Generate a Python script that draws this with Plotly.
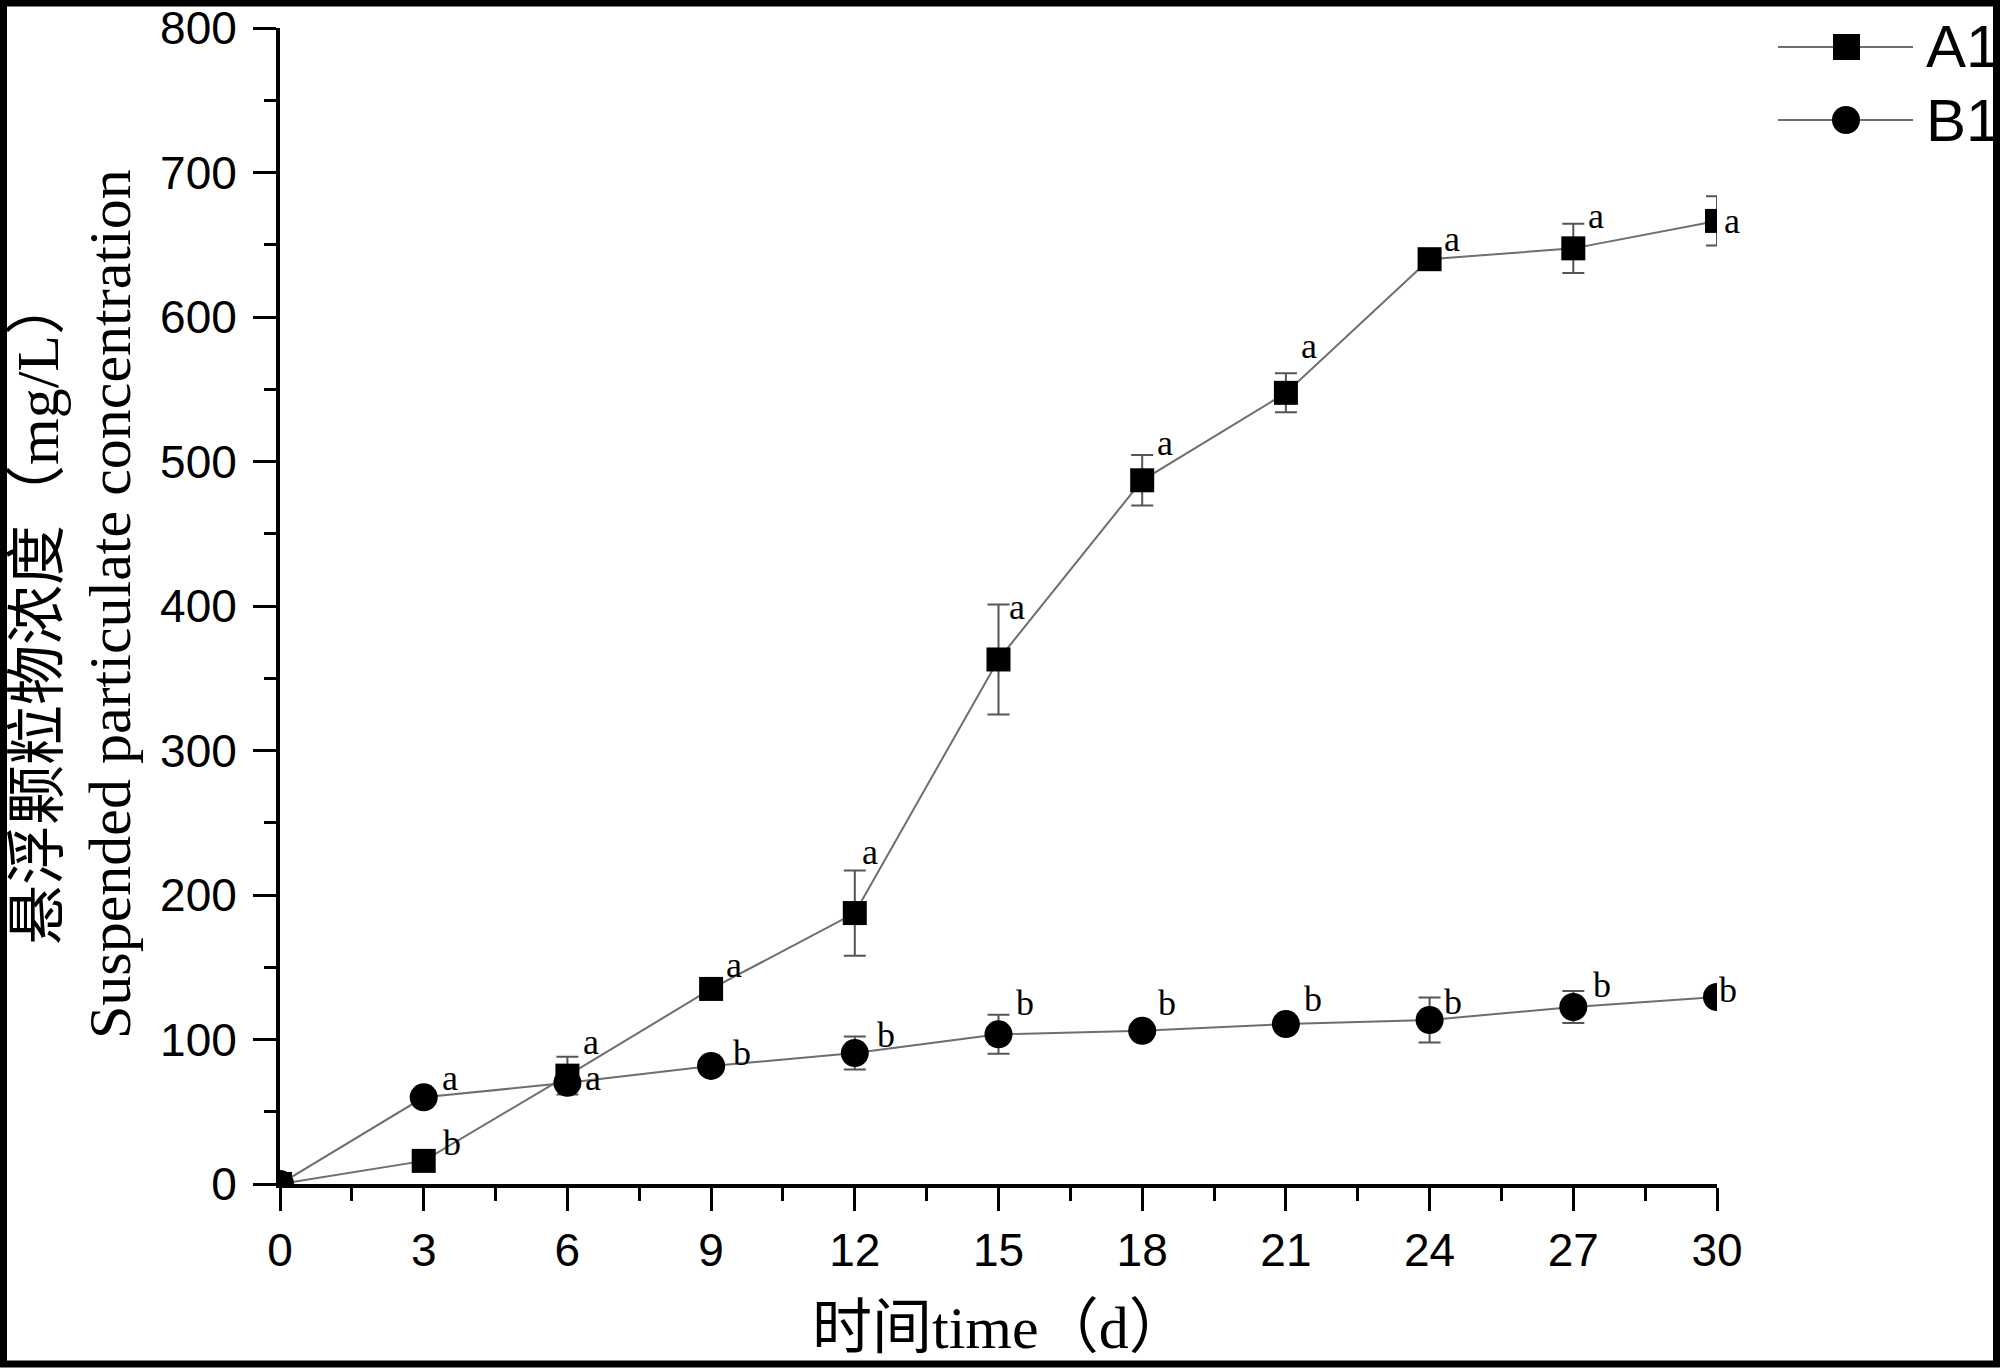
import plotly.graph_objects as go

# ---------------- data ----------------
days = [0, 3, 6, 9, 12, 15, 18, 21, 24, 27, 30]
a1_values = [0, 16, 75, 135, 187.5, 363, 487, 547.5, 640, 647.5, 666.5]
a1_errors = [0, 3, 13, 4, 29.5, 38, 17.5, 13.5, 4, 17, 17]
b1_values = [0, 60, 70, 81.7, 90.6, 103.6, 106, 110.7, 113.5, 122.5, 129.4]
b1_errors = [0, 3, 4, 4, 11.4, 13.5, 4, 4, 15.6, 11, 4]
a1_letters = ["", "b", "a", "a", "a", "a", "a", "a", "a", "a", "a"]
b1_letters = ["", "a", "a", "b", "b", "b", "b", "b", "b", "b", "b"]
series_names = ["A1", "B1"]
x_tick_values = [0, 3, 6, 9, 12, 15, 18, 21, 24, 27, 30]
y_tick_values = [0, 100, 200, 300, 400, 500, 600, 700, 800]

# ---------------- styles / layout geometry ----------------
W, H = 2000, 1368
ML, MR, MT, MB = 280, 283, 28, 184
PW, PH = W - ML - MR, H - MT - MB

# pixel offsets of significance letters relative to their points
a1_dx = [0, 28, 24, 23, 15, 18, 23, 23, 22, 23, 15]
a1_dy = [0, 18, 34, 24, 61, 52, 37, 47, 20, 32, 0]
b1_dx = [0, 26, 26, 31, 31, 26, 25, 27, 23, 29, 11]
b1_dy = [0, 19, 5, 13, 18, 31, 28, 25, 18, 22, 7]


def px_x(px):
    return (px - ML) / PW


def px_y(py):
    return (MT + PH - py) / PH


LINE_GRAY = "#6e6e6e"
ERR_GRAY = "#555555"
SERIF = "Liberation Serif, Times New Roman, serif"
SERIF_CJK = "Liberation Serif, Noto Sans CJK SC, serif"
SANS = "Liberation Sans, Arial, sans-serif"

fig = go.Figure()

fig.add_trace(go.Scatter(
    x=days, y=a1_values, name=series_names[0], mode="lines+markers",
    line=dict(color=LINE_GRAY, width=2),
    marker=dict(symbol="square", size=24, color="black"),
    error_y=dict(type="data", array=a1_errors, visible=True,
                 color=ERR_GRAY, thickness=2, width=11),
    showlegend=False,
))
fig.add_trace(go.Scatter(
    x=days, y=b1_values, name=series_names[1], mode="lines+markers",
    line=dict(color=LINE_GRAY, width=2),
    marker=dict(symbol="circle", size=28, color="black"),
    error_y=dict(type="data", array=b1_errors, visible=True,
                 color=ERR_GRAY, thickness=2, width=11),
    showlegend=False,
))

annotations = []
for t, v, lab, dx, dy in zip(days, a1_values, a1_letters, a1_dx, a1_dy):
    if lab:
        annotations.append(dict(x=t, y=v, xref="x", yref="y", text=lab,
                                showarrow=False, xshift=dx, yshift=dy,
                                xanchor="center", yanchor="middle",
                                font=dict(family=SERIF, size=36, color="black")))
for t, v, lab, dx, dy in zip(days, b1_values, b1_letters, b1_dx, b1_dy):
    if lab:
        annotations.append(dict(x=t, y=v, xref="x", yref="y", text=lab,
                                showarrow=False, xshift=dx, yshift=dy,
                                xanchor="center", yanchor="middle",
                                font=dict(family=SERIF, size=36, color="black")))

# axis titles
annotations.append(dict(x=px_x(38), y=px_y(610), xref="paper", yref="paper",
                        text="悬浮颗粒物浓度（mg/L）", textangle=-90, showarrow=False,
                        xanchor="center", yanchor="middle",
                        font=dict(family=SERIF_CJK, size=60, color="black")))
annotations.append(dict(x=px_x(110), y=px_y(604), xref="paper", yref="paper",
                        text="Suspended particulate concentration", textangle=-90,
                        showarrow=False, xanchor="center", yanchor="middle",
                        font=dict(family=SERIF, size=60, color="black")))
annotations.append(dict(x=px_x(1000), y=px_y(1328), xref="paper", yref="paper",
                        text="时间time（d）", showarrow=False,
                        xanchor="center", yanchor="middle",
                        font=dict(family=SERIF_CJK, size=60, color="black")))

# legend (drawn manually)
legend_rows = [47, 120]
shapes = []
for name, row in zip(series_names, legend_rows):
    shapes.append(dict(type="line", xref="paper", yref="paper",
                       x0=px_x(1778), x1=px_x(1913), y0=px_y(row), y1=px_y(row),
                       line=dict(color=LINE_GRAY, width=2), layer="above"))
    annotations.append(dict(x=px_x(1924), y=px_y(row), xref="paper", yref="paper",
                            text=name, showarrow=False, xanchor="left", yanchor="middle",
                            font=dict(family=SANS, size=60, color="black")))
shapes.append(dict(type="rect", xref="paper", yref="paper",
                   x0=px_x(1833), x1=px_x(1860), y0=px_y(legend_rows[0] - 13),
                   y1=px_y(legend_rows[0] + 13), fillcolor="black",
                   line=dict(width=0), layer="above"))
shapes.append(dict(type="circle", xref="paper", yref="paper",
                   x0=px_x(1832), x1=px_x(1860), y0=px_y(legend_rows[1] - 14),
                   y1=px_y(legend_rows[1] + 14), fillcolor="black",
                   line=dict(width=0), layer="above"))

# black frame around the picture
shapes.append(dict(type="rect", xref="paper", yref="paper",
                   x0=px_x(3.5), x1=px_x(1996.5), y0=px_y(3), y1=px_y(1364),
                   line=dict(color="black", width=7), fillcolor="rgba(0,0,0,0)",
                   layer="above"))

axis_common = dict(
    showgrid=False, zeroline=False, showline=True, linecolor="black", linewidth=4,
    ticks="outside", ticklen=23, tickwidth=3, tickcolor="black",
    tickfont=dict(family=SANS, size=46, color="black"),
    mirror=False, automargin=False,
)

fig.update_layout(
    width=W, height=H,
    margin=dict(l=ML, r=MR, t=MT, b=MB, pad=0, autoexpand=False),
    paper_bgcolor="white", plot_bgcolor="white",
    xaxis=dict(range=[0, 30], tickmode="array", tickvals=x_tick_values,
               ticktext=[str(v) for v in x_tick_values],
               minor=dict(ticks="outside", ticklen=13, tickwidth=3, tickcolor="black",
                          tick0=0, dtick=1.5, showgrid=False),
               **axis_common),
    yaxis=dict(range=[0, 800], tickmode="array", tickvals=y_tick_values,
               ticktext=[str(v) for v in y_tick_values],
               minor=dict(ticks="outside", ticklen=12, tickwidth=3, tickcolor="black",
                          tick0=0, dtick=50, showgrid=False),
               ticklabelstandoff=7,
               **axis_common),
    annotations=annotations,
    shapes=shapes,
)

fig.write_html(
    "out.html",
    config={"displayModeBar": False},
    post_script="document.body.style.margin='0px';document.body.style.overflow='hidden';",
)
